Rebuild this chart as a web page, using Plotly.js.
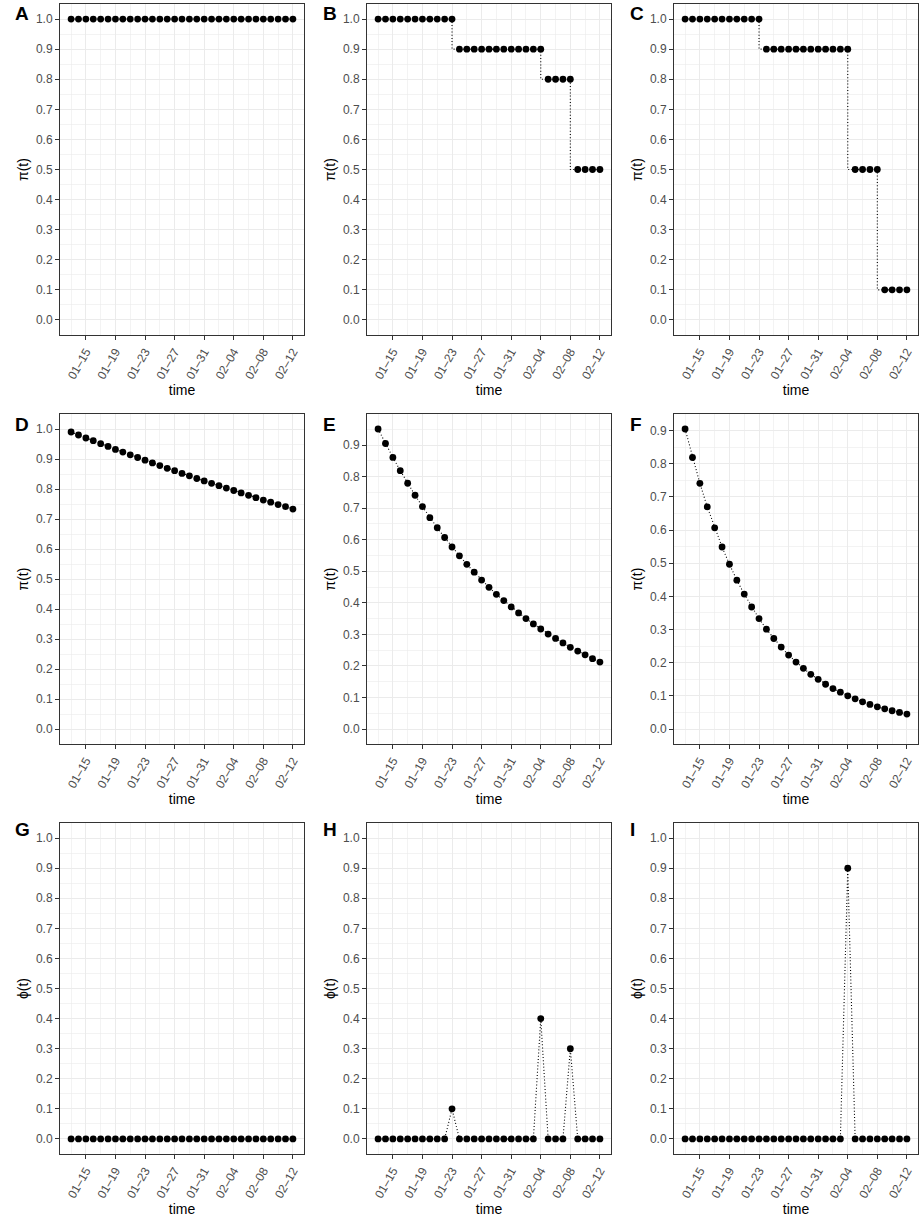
<!DOCTYPE html>
<html>
<head>
<meta charset="utf-8">
<script src="https://cdn.plot.ly/plotly-3.0.1.min.js"></script>
<style>html,body{margin:0;padding:0;background:#fff;}#chart{width:919px;height:1219px;}</style>
</head>
<body>
<div id="chart"></div>
<script>
// ---------- data ----------
const dates = ["2020-01-13","2020-01-14","2020-01-15","2020-01-16","2020-01-17","2020-01-18","2020-01-19","2020-01-20",
  "2020-01-21","2020-01-22","2020-01-23","2020-01-24","2020-01-25","2020-01-26","2020-01-27","2020-01-28",
  "2020-01-29","2020-01-30","2020-01-31","2020-02-01","2020-02-02","2020-02-03","2020-02-04","2020-02-05",
  "2020-02-06","2020-02-07","2020-02-08","2020-02-09","2020-02-10","2020-02-11","2020-02-12"];

const tickDates = ["2020-01-15","2020-01-19","2020-01-23","2020-01-27","2020-01-31","2020-02-04","2020-02-08","2020-02-12"];
const tickLabels = ["01\u201315","01\u201319","01\u201323","01\u201327","01\u201331","02\u201304","02\u201308","02\u201312"];

const piA = [1,1,1,1,1,1,1,1,1,1,1,1,1,1,1,1,1,1,1,1,1,1,1,1,1,1,1,1,1,1,1];
const piB = [1,1,1,1,1,1,1,1,1,1,1,0.9,0.9,0.9,0.9,0.9,0.9,0.9,0.9,0.9,0.9,0.9,0.9,0.8,0.8,0.8,0.8,0.5,0.5,0.5,0.5];
const piC = [1,1,1,1,1,1,1,1,1,1,1,0.9,0.9,0.9,0.9,0.9,0.9,0.9,0.9,0.9,0.9,0.9,0.9,0.5,0.5,0.5,0.5,0.1,0.1,0.1,0.1];
const piD = [0.990,0.980,0.970,0.961,0.951,0.942,0.932,0.923,0.914,0.905,0.896,0.887,0.878,0.869,0.861,0.852,
  0.844,0.835,0.827,0.819,0.811,0.803,0.795,0.787,0.779,0.771,0.763,0.756,0.748,0.741,0.733];
const piE = [0.951,0.905,0.861,0.819,0.779,0.741,0.705,0.670,0.638,0.607,0.577,0.549,0.522,0.497,0.472,0.449,
  0.427,0.407,0.387,0.368,0.350,0.333,0.317,0.301,0.287,0.273,0.259,0.247,0.235,0.223,0.212];
const piF = [0.905,0.819,0.741,0.670,0.607,0.549,0.497,0.449,0.407,0.368,0.333,0.301,0.273,0.247,0.223,0.202,
  0.183,0.165,0.150,0.135,0.122,0.111,0.100,0.091,0.082,0.074,0.067,0.061,0.055,0.050,0.045];
const phiG = [0,0,0,0,0,0,0,0,0,0,0,0,0,0,0,0,0,0,0,0,0,0,0,0,0,0,0,0,0,0,0];
const phiH = [0,0,0,0,0,0,0,0,0,0,0.1,0,0,0,0,0,0,0,0,0,0,0,0.4,0,0,0,0.3,0,0,0,0];
const phiI = [0,0,0,0,0,0,0,0,0,0,0,0,0,0,0,0,0,0,0,0,0,0,0.9,0,0,0,0,0,0,0,0];

const tags = ["A","B","C","D","E","F","G","H","I"];
const yTitles = ["\u03c0(t)","\u03c0(t)","\u03c0(t)","\u03c0(t)","\u03c0(t)","\u03c0(t)","\u03d5(t)","\u03d5(t)","\u03d5(t)"];
const series = [piA,piB,piC,piD,piE,piF,phiG,phiH,phiI];
const lineShapes = ["vh","vh","vh","linear","linear","linear","linear","linear","linear"];
const fixedUnitRange = [true,true,true,true,false,false,true,true,true];

// ---------- layout geometry (pixels) ----------
const W = 919, H = 1219;
const colX = [[60,304],[367,611],[674,918]];
const rowY = [[4,335],[414,744],[823,1154]];
const tagX = [13,321,628];
const tagY = [14,424,829];
const FONT = "Liberation Sans, Arial, Helvetica, sans-serif";

const traces = [];
const layout = {
  width: W, height: H,
  margin: {l:0,r:0,t:0,b:0},
  paper_bgcolor: "#ffffff",
  plot_bgcolor: "#ffffff",
  showlegend: false,
  font: {family: FONT, color: "#000"},
  annotations: []
};

function yRange(vals, fixed){
  let lo = 0, hi = 1;
  if(!fixed){ lo = Math.min(0, Math.min(...vals)); hi = Math.max(...vals); }
  const pad = (hi - lo) * 0.05;
  return [lo - pad, hi + pad];
}

for(let i=0;i<9;i++){
  const r = Math.floor(i/3), c = i%3;
  const sfx = i===0 ? "" : String(i+1);
  const ys = series[i];
  traces.push({
    x: dates, y: ys, type: "scatter", mode: "lines+markers",
    xaxis: "x"+sfx, yaxis: "y"+sfx,
    line: {color:"#000", width:1.1, dash:"1px,2.2px", shape: lineShapes[i]},
    marker: {color:"#000", size:6.8},
    hoverinfo: "skip"
  });
  const yr = yRange(ys, fixedUnitRange[i]);
  const yTicks = [];
  for(let t=0;t<=10;t++){ const v=t/10; if(v>=yr[0]-1e-9 && v<=yr[1]+1e-9) yTicks.push(v); }
  layout["xaxis"+sfx] = {
    domain: [colX[c][0]/W, colX[c][1]/W],
    anchor: "y"+sfx,
    type: "date",
    range: ["2020-01-11 12:00","2020-02-13 12:00"],
    tickmode: "array", tickvals: tickDates, ticktext: tickLabels,
    tickangle: -60,
    tickfont: {size:12, color:"#4D4D4D", family: FONT},
    ticks: "outside", ticklen: 4, tickcolor: "#333333", tickwidth: 1,
    showgrid: true, gridcolor: "#EBEBEB", gridwidth: 1,
    minor: {tickmode:"linear", tick0:"2020-01-13", dtick: 2*86400000, showgrid:true, gridcolor:"#EBEBEB", gridwidth:0.6, ticks:""},
    showline: true, mirror: true, linecolor: "#333333", linewidth: 1,
    zeroline: false, automargin: false,
    title: {text:"time", font:{size:14, color:"#000", family: FONT}, standoff: 4}
  };
  layout["yaxis"+sfx] = {
    domain: [1-rowY[r][1]/H, 1-rowY[r][0]/H],
    anchor: "x"+sfx,
    range: yr,
    tickmode: "array", tickvals: yTicks, ticktext: yTicks.map(v=>v.toFixed(1)),
    tickfont: {size:12, color:"#4D4D4D", family: FONT},
    ticks: "outside", ticklen: 4, tickcolor: "#333333", tickwidth: 1,
    showgrid: true, gridcolor: "#EBEBEB", gridwidth: 1,
    minor: {tickmode:"linear", tick0:0.05, dtick:0.1, showgrid:true, gridcolor:"#EBEBEB", gridwidth:0.6, ticks:""},
    showline: true, mirror: true, linecolor: "#333333", linewidth: 1,
    zeroline: false, automargin: false,
    title: {text: yTitles[i], font:{size:14, color:"#000", family: FONT}, standoff: 4}
  };
  layout.annotations.push({
    text: "<b>"+tags[i]+"</b>", xref:"paper", yref:"paper",
    x: tagX[c]/W, y: 1-tagY[r]/H, xanchor:"left", yanchor:"middle",
    showarrow:false, font:{size:19, color:"#000", family: FONT}
  });
}

Plotly.newPlot("chart", traces, layout, {staticPlot:true, displayModeBar:false});
</script>
</body>
</html>
